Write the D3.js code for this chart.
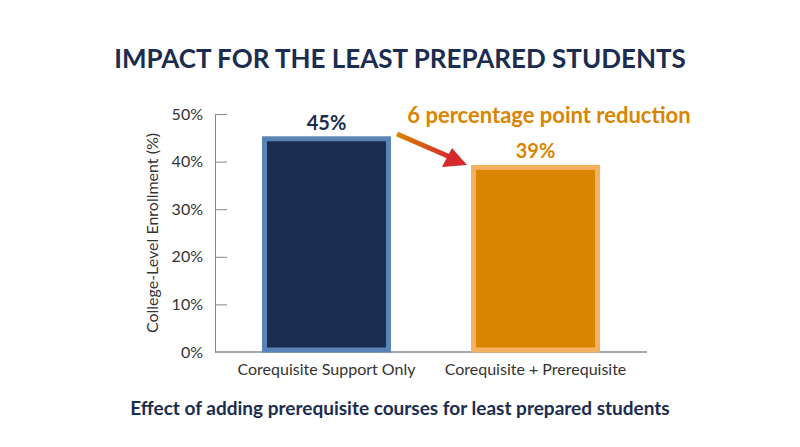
<!DOCTYPE html>
<html><head><meta charset="utf-8">
<script src="https://cdn.jsdelivr.net/npm/d3@7"></script>
<style>body{margin:0;background:#fff}</style></head>
<body><svg id="c" width="800" height="447"></svg>
<script>
const categories=["Corequisite Support Only","Corequisite + Prerequisite"];
const values=[45,39];
const labels=["45%","39%"];
const tickValues=[0,10,20,30,40,50];
const fills=["#1a2d50","#d98500"];
const strokes=["#5b84b6","#f5b061"];
const labelColors=["#1a2d50","#d98500"];
const svg=d3.select("#c");
const font="Lato, 'Open Sans', sans-serif";
const x=d3.scaleBand().domain(categories).range([262,600]).paddingInner(0.383).paddingOuter(0);
const y=d3.scaleLinear().domain([0,50]).range([352,114]);
svg.append("text").attr("x",400).attr("y",68).attr("text-anchor","middle").attr("font-family",font).attr("font-weight",700).attr("font-size",26).attr("fill","#1a2d50").text("IMPACT FOR THE LEAST PREPARED STUDENTS");
const ax=svg.append("g").attr("transform","translate(215,0)").call(d3.axisLeft(y).tickValues(tickValues).tickFormat(d=>d+"%").tickSizeInner(-12).tickSizeOuter(0).tickPadding(8));
ax.select(".domain").attr("stroke","#888");
ax.selectAll("line").attr("stroke","#888");
ax.selectAll("text").attr("font-family",font).attr("font-size",16).attr("fill","#333").attr("dx",-4);
ax.select(".tick:first-of-type line").remove();
svg.append("line").attr("x1",215).attr("x2",647).attr("y1",352).attr("y2",352).attr("stroke","#888").attr("stroke-width",1.5);
svg.selectAll("rect.b").data(values).join("rect").attr("class","b")
 .attr("x",(d,i)=>x(categories[i])+2.5).attr("width",x.bandwidth()-5)
 .attr("y",d=>y(d)+1).attr("height",d=>y(0)-y(d)-3)
 .attr("fill",(d,i)=>fills[i]).attr("stroke",(d,i)=>strokes[i]).attr("stroke-width",5);
svg.selectAll("text.v").data(values).join("text").attr("class","v")
 .attr("x",(d,i)=>x(categories[i])+x.bandwidth()/2).attr("y",d=>y(d)-8).attr("text-anchor","middle")
 .attr("font-family",font).attr("font-weight",700).attr("font-size",20).attr("fill",(d,i)=>labelColors[i]).text((d,i)=>labels[i]);
svg.selectAll("text.c").data(categories).join("text").attr("class","c")
 .attr("x",d=>x(d)+x.bandwidth()/2).attr("y",375).attr("text-anchor","middle")
 .attr("font-family",font).attr("font-size",16).attr("fill","#333").text(d=>d);
svg.append("text").attr("transform","translate(158,233) rotate(-90)").attr("text-anchor","middle").attr("font-family",font).attr("font-size",16).attr("fill","#333").text("College-Level Enrollment (%)");
svg.append("text").attr("x",549).attr("y",123).attr("text-anchor","middle").attr("font-family",font).attr("font-weight",700).attr("font-size",22).attr("fill","#d98500").text("6 percentage point reduction");
const defs=svg.append("defs");
const g=defs.append("linearGradient").attr("id","ag").attr("x1","0").attr("x2","1");
g.append("stop").attr("offset","0").attr("stop-color","#d98500");
g.append("stop").attr("offset","1").attr("stop-color","#d42a2a");
svg.append("line").attr("x1",397).attr("y1",134).attr("x2",450).attr("y2",157).attr("stroke","url(#ag)").attr("stroke-width",5);
svg.append("path").attr("d","M467,165 L442,167 L452,148 Z").attr("fill","#d42a2a");
svg.append("text").attr("x",400).attr("y",415).attr("text-anchor","middle").attr("font-family",font).attr("font-weight",700).attr("font-size",19).attr("fill","#1a2d50").text("Effect of adding prerequisite courses for least prepared students");
</script></body></html>
